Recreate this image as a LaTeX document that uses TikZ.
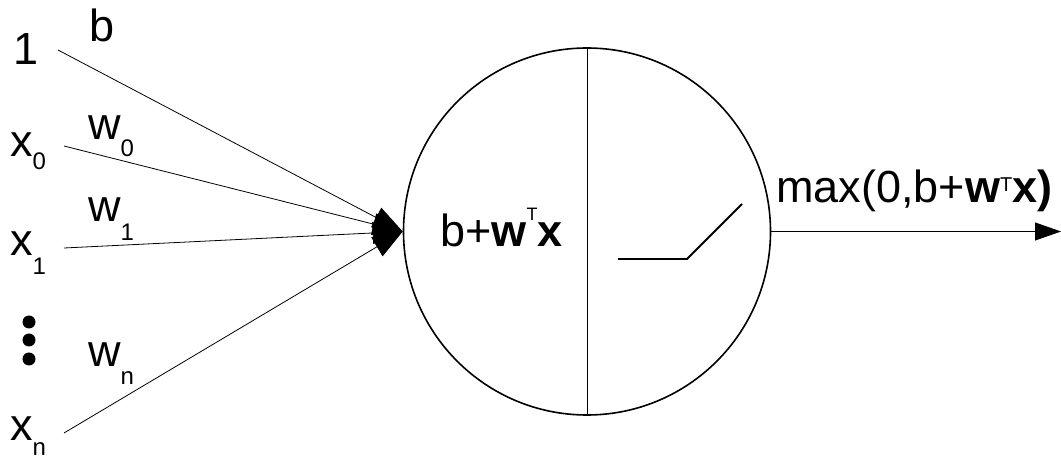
\documentclass[tikz,border=0pt]{standalone}
\usepackage{fontspec}
\setmainfont{Liberation Sans}
\usetikzlibrary{arrows.meta}

% pedice abbassato e apice T
\newcommand\pedice[2][18pt]{\raisebox{-#1}{\fontsize{24}{24}\selectfont #2}}
\newcommand\apiceT[2]{\raisebox{#1}{\fontsize{#2}{#2}\selectfont T}}

\begin{document}
\begin{tikzpicture}[x=1pt,y=-1pt,
	testo/.style={font=\fontsize{45}{54}\selectfont, inner sep=0pt, anchor=base west},
	ingresso/.style={black, line width=0.8pt, -{Triangle[length=30pt,width=22pt]}},
	uscita/.style={black, line width=0.8pt, -{Triangle[length=26pt,width=18pt]}},
	neurone/.style={circle, draw, line width=1.6pt, minimum size=367pt, inner sep=0pt},
	]
	\useasboundingbox (0,0) rectangle (1061,462);
	% ── Parametri ──
	\def\xs{64}       % inizio delle linee di ingresso
	\def\rd{6.5}      % raggio dei puntini
	
	% ===================== neurone =====================
	\node[neurone] (neur) at (587,231.5) {};
	\draw[line width=0.8pt] (neur.north) -- (neur.south);
	\node[testo] (somma) at (440,247) {b+\textbf{w}\apiceT{26pt}{18}\textbf{x}};
	\draw[line width=1.8pt] (618,259) -- (687,259) -- (742,204); % rampa (ReLU)
	
	% ===================== ingressi =====================
	\node[testo] (uno) at (13,65) {1};
	\node[testo] (xz) at (10,157) {x\pedice[13pt]{0}};
	\node[testo] (xu) at (10,256) {x\pedice[19pt]{1}};
	\node[testo] (xn) at (10,440) {x\pedice[15pt]{n}};
	\foreach \y in {322,340,359}
		\fill (29,\y) circle (\rd);
	% pesi
	\node[testo] (b)  at (89,42)  {b};
	\node[testo] (wz) at (88,140) {w\pedice[17pt]{0}};
	\node[testo] (wu) at (88,222) {w\pedice[19pt]{1}};
	\node[testo] (wn) at (88,367) {w\pedice{n}};
	% punti di partenza delle linee
	\coordinate (p1) at (58,50);
	\coordinate (pz) at (\xs,146);
	\coordinate (pu) at (\xs,248);
	\coordinate (pn) at (\xs,433);
	\foreach \p in {p1,pz,pu,pn}
		\draw[ingresso] (\p) -- (neur.west);
	
	% ===================== uscita =====================
	\coordinate (fine) at (1061,231.5);
	\draw[uscita] (neur.east) -- (fine);
	\node[testo] (attiv) at (776,203) {max(0,b+\textbf{w}\apiceT{11pt}{20}\textbf{x)}};
	
\end{tikzpicture}
\end{document}
